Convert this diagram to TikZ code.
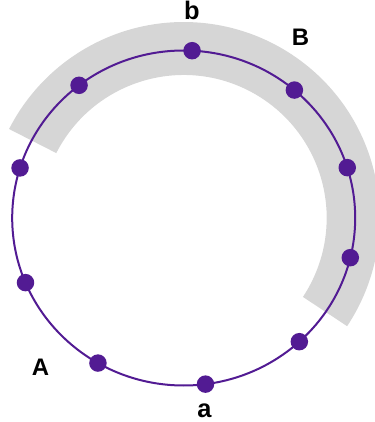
\documentclass[tikz,border=0pt]{standalone}
\usepackage{fontspec}
\setmainfont{Liberation Sans}
\usetikzlibrary{calc}
\definecolor{ringpurple}{RGB}{82,27,147}
\definecolor{bandgray}{RGB}{214,214,214}
\begin{document}
\begin{tikzpicture}[x=1bp,y=1bp,
  dot/.style={circle,fill=ringpurple,inner sep=0pt,minimum size=17.5bp},
  lbl/.style={inner sep=0pt,anchor=base,font=\bfseries\fontsize{24}{27}\selectfont},
  lbls/.style={inner sep=0pt,anchor=base,font=\bfseries\fontsize{25.5}{28}\selectfont}]
\useasboundingbox (0,0) rectangle (375,422);
\coordinate (c) at (183.7,204);
% gray band
\fill[bandgray] ($(c)+(-33.5:196)$) arc[start angle=-33.5,end angle=153,radius=196]
  -- ($(c)+(153:143)$) arc[start angle=153,end angle=-33.5,radius=143] -- cycle;
% ring
\draw[ringpurple,line width=2bp] (c) ellipse[x radius=171.5,y radius=167.5];
% dots
\foreach \n/\t in {p1/17.5,p2/49.8,p3/87.2,p4/127.6,p5/162.6,p6/202.7,p7/240,p8/277.3,p9/312.4,p10/346.3}{
  \node[dot] (\n) at ($(c)+({171.5*cos(\t)},{167.5*sin(\t)})$) {};
}
% labels
\node[lbls] (lb) at (192,402) {b};
\node[lbl] (lB) at (300.5,377) {B};
\node[lbl] (lA) at (40.5,47) {A};
\node[lbls] (la) at (204.5,4.5) {a};
\end{tikzpicture}
\end{document}
